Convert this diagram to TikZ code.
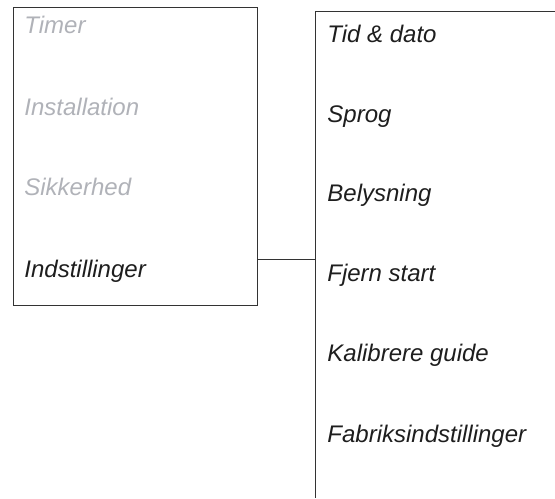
\documentclass[tikz,border=0pt]{standalone}
\usepackage{fontspec}
\setmainfont{Liberation Sans}
\usepackage{xcolor}
\usepackage{tikz}
\usetikzlibrary{positioning}

\definecolor{dimtext}{RGB}{176,178,184}
\definecolor{menutext}{RGB}{30,30,30}

\begin{document}
\begin{tikzpicture}[
      x=0.5pt, y=-0.5pt,
      entry/.style={anchor=base west, inner sep=0pt,
                    font=\fontsize{12}{14}\selectfont\itshape},
      dim/.style={entry, text=dimtext},
      active/.style={entry, text=menutext},
      frame/.style={draw=black!80, line width=0.5pt},
      link/.style={draw=black!80, line width=0.5pt}
    ]
    \useasboundingbox (0,0) rectangle (555,498);

    % Main menu
    \node[frame, rectangle, inner sep=0pt, minimum width=122pt, minimum height=149pt,
          anchor=north west] (menu) at (13,7) {};
    \node[dim]    (timer)   at (24,33)  {Timer};
    \node[dim]    (install) at (24,115) {Installation};
    \node[dim]    (safety)  at (24,195) {Sikkerhed};
    \node[active] (settings) at (24,277) {Indstillinger};

    % Submenu (open at right and bottom)
    \coordinate (subtop)  at (555,11);
    \coordinate (subcorner) at (315,11);
    \coordinate (subbot)  at (315,498);
    \draw[frame] (subtop) -- (subcorner) -- (subbot);
    \node[active] (time)    at (327,42)  {Tid \& dato};
    \node[active] (lang)    at (327,122) {Sprog};
    \node[active] (light)   at (327,201) {Belysning};
    \node[active] (remote)  at (327,281) {Fjern start};
    \node[active] (calib)   at (327,361) {Kalibrere guide};
    \node[active] (factory) at (327,442) {Fabriksindstillinger};

    % Link between menus
    \coordinate (join) at (315,259);
    \draw[link] (menu.east |- join) -- (join);

  \end{tikzpicture}
\end{document}
